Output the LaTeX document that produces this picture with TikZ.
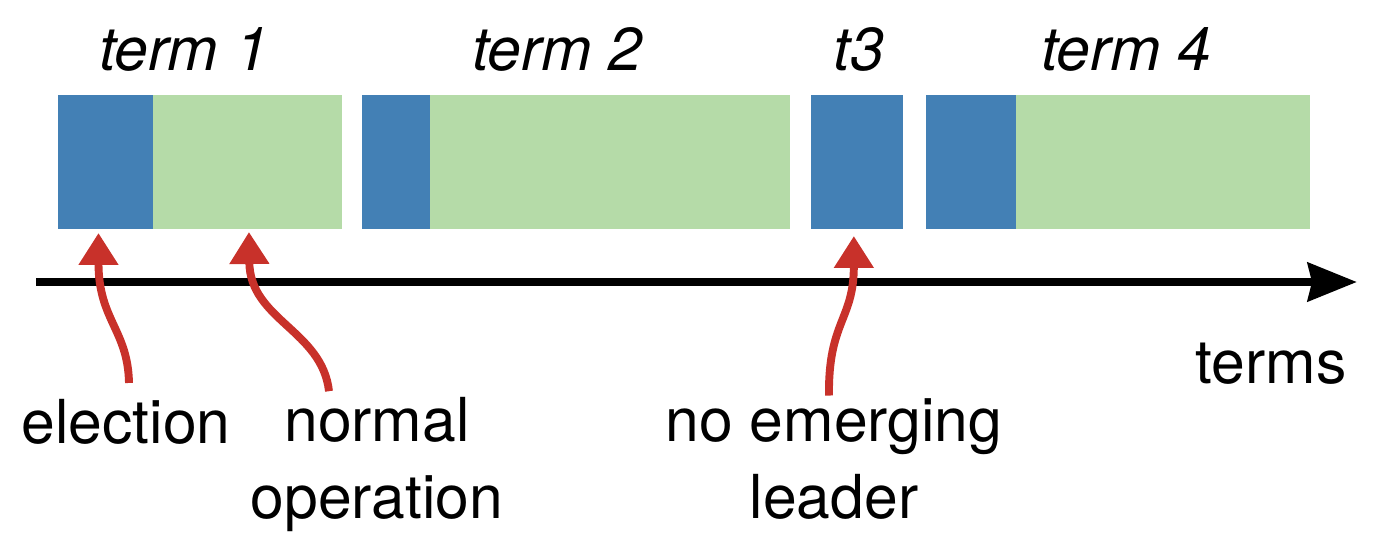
\documentclass[tikz,border=0pt]{standalone}
\usepackage{fontspec}
\setmainfont{TeX Gyre Heros}
\usetikzlibrary{arrows.meta, positioning, calc}
\definecolor{elecblue}{RGB}{67,128,181}
\definecolor{normgreen}{RGB}{181,219,168}
\definecolor{arrowred}{RGB}{200,49,42}

\begin{document}
\begin{tikzpicture}[x=0.02cm, y=-0.02cm,
    blk/.style={minimum height=2.68cm, inner sep=0pt, outer sep=0pt},
    elec/.style={blk, fill=elecblue},
    norm/.style={blk, fill=normgreen},
    lbl/.style={anchor=base, inner sep=2pt, align=center, font=\fontsize{34.5}{43.7}\selectfont},
    head/.style={lbl, font=\fontsize{34.5}{43.7}\selectfont\itshape},
    pointer/.style={draw=arrowred, line width=4.5pt, -{Triangle[length=0.64cm, width=0.76cm]}}]
    \useasboundingbox (0,0) rectangle (1388,552);

    % the four terms
    \node[elec, minimum width=1.9cm, anchor=north west] (e1) at (58,95) {};
    \node[norm, minimum width=3.78cm, right=0pt of e1] (n1) {};
    \node[elec, minimum width=1.36cm, right=0.4cm of n1] (e2) {};
    \node[norm, minimum width=7.2cm, right=0pt of e2] (n2) {};
    \node[elec, minimum width=1.84cm, right=0.42cm of n2] (e3) {};
    \node[elec, minimum width=1.8cm, right=0.46cm of e3] (e4) {};
    \node[norm, minimum width=5.88cm, right=0pt of e4] (n4) {};

    \node[head] (lab1) at (184,70) {term 1};
    \node[head] (lab2) at (557,70) {term 2};
    \node[head] (lab3) at (859,70) {t3};
    \node[head] (lab4) at (1126,70) {term 4};

    % time axis
    \coordinate (t0) at (36,282);
    \coordinate (tend) at (1357,282);
    \draw[line width=5.1pt, -{Stealth[length=0.98cm, width=0.76cm, inset=0.08cm]}] (t0) -- (tend);
    \node[lbl] (axlbl) at (1271,383) {terms};

    % what happens in a term
    \node[lbl] (elabel) at (126,443) {election};
    \node[lbl] (nlabel) at (377,518) {normal\\operation};
    \node[lbl] (llabel) at (834,518) {no emerging\\leader};

    \draw[pointer] ($(elabel.north)+(3,-12)$) .. controls +(-1,-53) and +(0,87) .. ($(e1.south)+(-7,4)$);
    \draw[pointer] ($(nlabel.north)+(-48,-2)$) .. controls +(-7,-61) and +(1,88) .. ($(n1.south)+(1.5,3)$);
    \draw[pointer] ($(llabel.north)+(-5,1)$) .. controls +(-1,-74) and +(0,84) .. ($(e3.south)+(-3,7)$);
\end{tikzpicture}
\end{document}
